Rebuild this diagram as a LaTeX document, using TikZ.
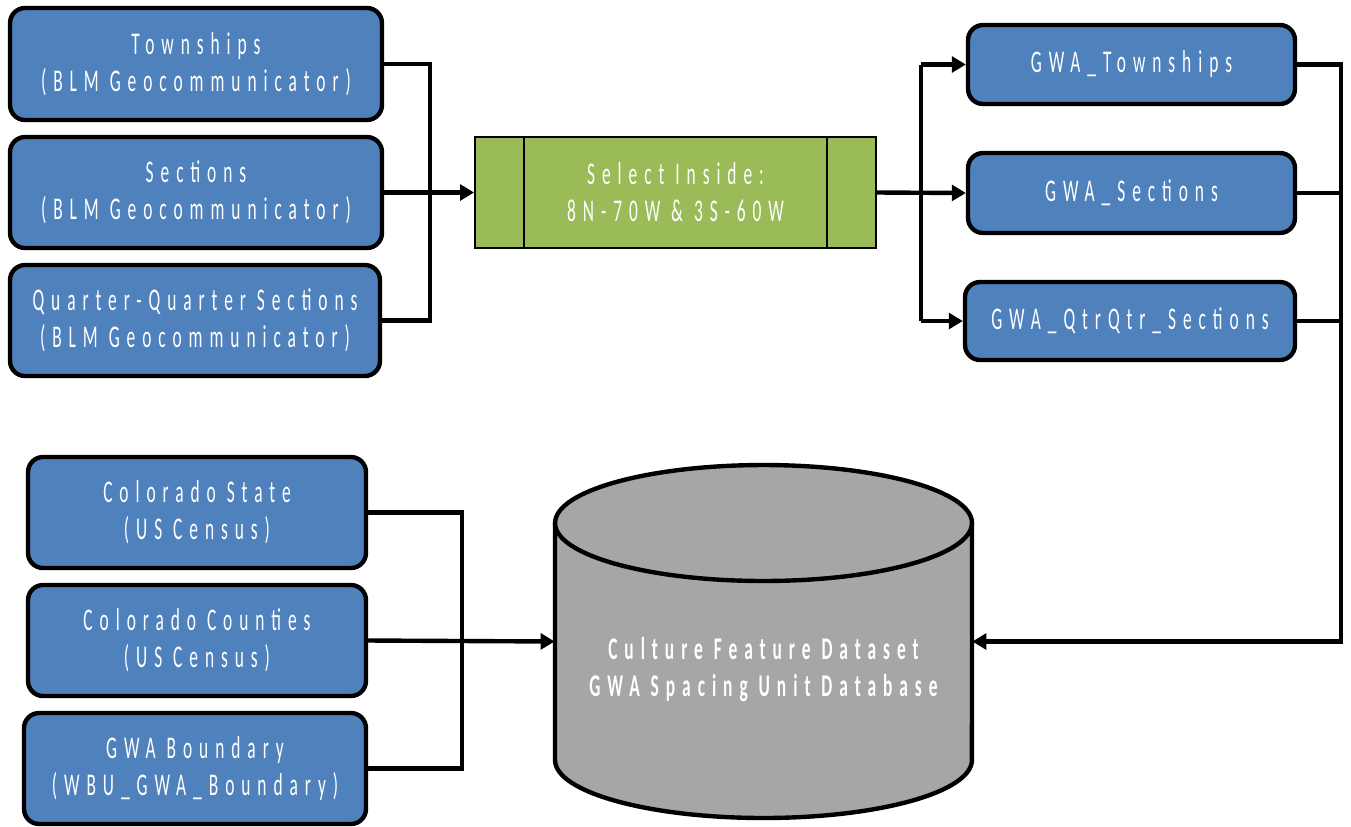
\documentclass[tikz,border=0pt]{standalone}
\usepackage{fontspec}
\setmainfont{Carlito}[LetterSpace=22, FakeStretch=0.55]
\usetikzlibrary{arrows.meta, positioning, shapes.geometric}

\definecolor{layerblue}{HTML}{4F81BD}
\definecolor{clipgreen}{HTML}{9BBB59}
\definecolor{dbgray}{HTML}{A6A6A6}

\tikzset{
  layer/.style={draw=black, line width=2.5pt, fill=layerblue, rounded corners=0.3cm,
    text=white, align=center, font=\fontsize{18}{21}\selectfont, inner sep=0pt},
  clipbox/.style={draw=black, line width=1.1pt, fill=clipgreen, text=white, align=center,
    font=\fontsize{18}{21}\selectfont, minimum width=8.02cm, minimum height=2.22cm},
  feed/.style={line width=2.5pt},
  feedarr/.style={feed, -{Triangle[length=8pt, width=9pt]}}
}

\begin{document}
\begin{tikzpicture}[x=0.02cm, y=-0.02cm]
\useasboundingbox (0,0) rectangle (1351,826);
% source layers
\node (tw) at (196,64) [layer, minimum width=7.44cm, minimum height=2.24cm] {Townships\\(BLM Geocommunicator)};
\node (sec) at (196,192.5) [layer, minimum width=7.44cm, minimum height=2.22cm] {Sections\\(BLM Geocommunicator)};
\node (qq) at (195,320.5) [layer, minimum width=7.4cm, minimum height=2.22cm] {Quarter-Quarter Sections\\(BLM Geocommunicator)};
% clip step
\node (sel) at (675.5,192.5) [clipbox] {Select Inside:\\8N-70W \& 3S-60W};
\draw [line width=1.1pt] ([xshift=1cm]sel.north west) -- ([xshift=1cm]sel.south west);
\draw [line width=1.1pt] ([xshift=-1cm]sel.north east) -- ([xshift=-1cm]sel.south east);
% clipped layers
\node (gtw) at (1131.5,64.5) [layer, minimum width=6.54cm, minimum height=1.58cm] {GWA\_Townships};
\node (gsec) at (1131.5,193) [layer, minimum width=6.54cm, minimum height=1.6cm] {GWA\_Sections};
\node (gqq) at (1130,321) [layer, minimum width=6.6cm, minimum height=1.56cm] {GWA\_QtrQtr\_Sections};
% state layers
\node (cs) at (197,512.5) [layer, minimum width=6.76cm, minimum height=2.22cm] {Colorado State\\(US Census)};
\node (cc) at (197,640.5) [layer, minimum width=6.76cm, minimum height=2.22cm] {Colorado Counties\\(US Census)};
\node (gb) at (195,768.5) [layer, minimum width=6.84cm, minimum height=2.22cm] {GWA Boundary\\(WBU\_GWA\_Boundary)};
% database drum
\node (db) at (763.5,641.5) [minimum width=8.34cm, minimum height=7.06cm, inner sep=0pt] {};
\draw [line width=2.5pt, fill=dbgray] (555,523) -- (555,760)
  arc[start angle=180, end angle=360, x radius=4.17cm, y radius=1.16cm]
  -- (972,523) arc[start angle=0, end angle=180, x radius=4.17cm, y radius=1.16cm] -- cycle;
\draw [line width=2.5pt] (555,523) arc[start angle=180, end angle=360, x radius=4.17cm, y radius=1.16cm];
\node (dbtxt) at (763.5,670) [text=white, align=center, font=\fontsize{18}{21}\selectfont\bfseries]
  {Culture Feature Dataset\\GWA Spacing Unit Database};

% left bus into the clip step
\coordinate (busA) at (430,64);
\draw [feed] (tw.east) -- (busA) -- (busA |- qq.east) -- (qq.east);
\draw [feedarr] (sec.east) -- (sel.west);
% fan out to clipped layers
\coordinate (busB) at (921,192.5);
\draw [feedarr] (sel.east) -- (gsec.west);
\draw [feedarr] (busB |- gtw.west) -- (gtw.west);
\draw [feed] (busB |- gtw.west) -- (busB |- gqq.west);
\draw [feedarr] (busB |- gqq.west) -- (gqq.west);
% clipped layers into database
\coordinate (busC) at (1341,64.5);
\draw [feedarr] (gtw.east) -- (busC) -- (busC |- db.east) -- (db.east);
\draw [feed] (gsec.east) -- (busC |- gsec.east);
\draw [feed] (gqq.east) -- (busC |- gqq.east);
% state layers into database
\coordinate (busD) at (462,512.5);
\draw [feed] (cs.east) -- (busD) -- (busD |- gb.east) -- (gb.east);
\draw [feedarr] (cc.east) -- (db.west);
\end{tikzpicture}
\end{document}
